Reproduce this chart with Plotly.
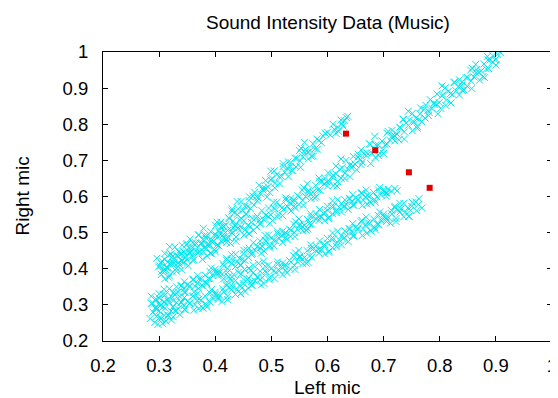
import plotly.graph_objects as go

# ---- data ----
# upper-left steep band
band_a = [
    (0.296,0.429),(0.303,0.416),(0.299,0.405),(0.305,0.393),
    (0.317,0.438),(0.310,0.426),(0.319,0.414),(0.313,0.404),
    (0.328,0.460),(0.335,0.447),(0.331,0.436),(0.326,0.425),
    (0.349,0.466),(0.344,0.447),(0.340,0.442),(0.347,0.431),
    (0.360,0.472),(0.364,0.466),(0.357,0.448),(0.355,0.482),
    (0.371,0.494),(0.378,0.481),(0.374,0.470),(0.380,0.458),
    (0.392,0.503),(0.385,0.491),(0.394,0.479),(0.388,0.469),
    (0.403,0.529),(0.410,0.516),(0.406,0.505),(0.401,0.494),
    (0.424,0.541),(0.419,0.522),(0.415,0.517),(0.422,0.506),
    (0.435,0.556),(0.439,0.550),(0.432,0.532),(0.430,0.566),
    (0.446,0.586),(0.453,0.573),(0.449,0.562),(0.455,0.550),
    (0.467,0.601),(0.460,0.589),(0.469,0.577),(0.463,0.567),
    (0.478,0.631),(0.485,0.618),(0.481,0.607),(0.476,0.596),
    (0.499,0.646),(0.494,0.627),(0.490,0.622),(0.497,0.611),
    (0.510,0.661),(0.514,0.655),(0.507,0.637),(0.505,0.671),
    (0.521,0.691),(0.528,0.678),(0.524,0.667),(0.530,0.655),
    (0.542,0.706),(0.535,0.694),(0.544,0.682),(0.538,0.672),
    (0.553,0.734),(0.560,0.721),(0.556,0.710),(0.551,0.699),
    (0.574,0.746),(0.569,0.727),(0.565,0.722),(0.572,0.711),
    (0.585,0.755),(0.589,0.749),(0.582,0.731),
    (0.592,0.768),(0.600,0.778),(0.605,0.770),(0.612,0.786),(0.618,0.792),
    (0.620,0.780),(0.626,0.800),(0.630,0.810),(0.634,0.818),(0.624,0.812),
    (0.610,0.800),(0.615,0.775),(0.628,0.795),(0.596,0.775),(0.636,0.822),
    (0.310,0.442),(0.305,0.421),(0.312,0.396),
    (0.321,0.441),(0.326,0.415),(0.319,0.461),
    (0.341,0.465),(0.338,0.438),(0.335,0.418),
    (0.350,0.469),(0.355,0.445),(0.354,0.457),
    (0.370,0.493),(0.365,0.472),(0.372,0.447),
    (0.381,0.492),(0.386,0.466),(0.379,0.512),
    (0.401,0.520),(0.398,0.493),(0.395,0.473),
    (0.410,0.529),(0.415,0.505),(0.414,0.517),
    (0.430,0.560),(0.425,0.539),(0.432,0.514),
    (0.441,0.566),(0.446,0.540),(0.439,0.586),
    (0.461,0.599),(0.458,0.572),(0.455,0.552),
    (0.470,0.612),(0.475,0.588),(0.474,0.600),
    (0.490,0.644),(0.485,0.623),(0.492,0.598),
    (0.501,0.650),(0.506,0.624),(0.499,0.670),
    (0.521,0.683),(0.518,0.656),(0.515,0.636),
    (0.530,0.696),(0.535,0.672),(0.534,0.684),
    (0.550,0.727),(0.545,0.706),(0.552,0.681),
    (0.561,0.730),(0.566,0.704),(0.559,0.750),
    (0.581,0.759),(0.578,0.732),(0.575,0.712),
]

# main diagonal band
band_b = [
    (0.301,0.408),(0.308,0.395),(0.304,0.384),(0.310,0.372),
    (0.322,0.415),(0.315,0.403),(0.324,0.391),(0.318,0.381),
    (0.333,0.436),(0.340,0.423),(0.336,0.412),(0.331,0.401),
    (0.354,0.443),(0.349,0.424),(0.345,0.419),(0.352,0.408),
    (0.365,0.449),(0.369,0.443),(0.362,0.425),(0.360,0.459),
    (0.376,0.471),(0.383,0.458),(0.379,0.447),(0.385,0.435),
    (0.397,0.477),(0.390,0.465),(0.399,0.453),(0.393,0.443),
    (0.408,0.499),(0.415,0.486),(0.411,0.475),(0.406,0.464),
    (0.429,0.505),(0.424,0.486),(0.420,0.481),(0.427,0.470),
    (0.440,0.512),(0.444,0.506),(0.437,0.488),(0.435,0.522),
    (0.451,0.533),(0.458,0.520),(0.454,0.509),(0.460,0.497),
    (0.472,0.540),(0.465,0.528),(0.474,0.516),(0.468,0.506),
    (0.483,0.561),(0.490,0.548),(0.486,0.537),(0.481,0.526),
    (0.504,0.568),(0.499,0.549),(0.495,0.544),(0.502,0.533),
    (0.515,0.574),(0.519,0.568),(0.512,0.550),(0.510,0.584),
    (0.526,0.596),(0.533,0.583),(0.529,0.572),(0.535,0.560),
    (0.547,0.602),(0.540,0.590),(0.549,0.578),(0.543,0.568),
    (0.558,0.624),(0.565,0.611),(0.561,0.600),(0.556,0.589),
    (0.579,0.631),(0.574,0.612),(0.570,0.607),(0.577,0.596),
    (0.590,0.641),(0.594,0.635),(0.587,0.617),(0.585,0.651),
    (0.601,0.666),(0.608,0.653),(0.604,0.642),(0.610,0.630),
    (0.622,0.675),(0.615,0.663),(0.624,0.651),(0.618,0.641),
    (0.633,0.700),(0.640,0.687),(0.636,0.676),(0.631,0.665),
    (0.654,0.709),(0.649,0.690),(0.645,0.685),(0.652,0.674),
    (0.665,0.719),(0.669,0.713),(0.662,0.695),(0.660,0.729),
    (0.676,0.744),(0.683,0.731),(0.679,0.720),(0.685,0.708),
    (0.697,0.754),(0.690,0.742),(0.699,0.730),(0.693,0.720),
    (0.708,0.780),(0.715,0.767),(0.711,0.756),(0.706,0.745),
    (0.729,0.792),(0.724,0.773),(0.720,0.768),(0.727,0.757),
    (0.740,0.803),(0.744,0.797),(0.737,0.779),(0.735,0.813),
    (0.751,0.830),(0.758,0.817),(0.754,0.806),(0.760,0.794),
    (0.772,0.841),(0.765,0.829),(0.774,0.817),(0.768,0.807),
    (0.783,0.868),(0.790,0.855),(0.786,0.844),(0.781,0.833),
    (0.804,0.879),(0.799,0.860),(0.795,0.855),(0.802,0.844),
    (0.815,0.891),(0.819,0.885),(0.812,0.867),(0.810,0.901),
    (0.826,0.917),(0.833,0.904),(0.829,0.893),(0.835,0.881),
    (0.847,0.929),(0.840,0.917),(0.849,0.905),(0.843,0.895),
    (0.858,0.955),(0.865,0.942),(0.861,0.931),(0.856,0.920),
    (0.879,0.967),(0.874,0.948),(0.870,0.943),(0.877,0.932),
    (0.890,0.978),(0.894,0.972),(0.887,0.954),(0.885,0.988),
    (0.903,0.994),(0.909,0.998),(0.900,0.980),
    (0.315,0.418),(0.310,0.399),(0.317,0.376),
    (0.326,0.416),(0.331,0.393),(0.324,0.434),
    (0.346,0.440),(0.343,0.416),(0.340,0.397),
    (0.355,0.445),(0.360,0.423),(0.359,0.434),
    (0.375,0.468),(0.370,0.449),(0.377,0.426),
    (0.386,0.466),(0.391,0.443),(0.384,0.484),
    (0.406,0.490),(0.403,0.466),(0.400,0.447),
    (0.415,0.495),(0.420,0.473),(0.419,0.484),
    (0.435,0.518),(0.430,0.499),(0.437,0.476),
    (0.446,0.516),(0.451,0.493),(0.444,0.534),
    (0.466,0.540),(0.463,0.516),(0.460,0.497),
    (0.475,0.545),(0.480,0.523),(0.479,0.534),
    (0.495,0.568),(0.490,0.549),(0.497,0.526),
    (0.506,0.566),(0.511,0.543),(0.504,0.584),
    (0.526,0.590),(0.523,0.566),(0.520,0.547),
    (0.535,0.595),(0.540,0.573),(0.539,0.584),
    (0.555,0.618),(0.550,0.599),(0.557,0.576),
    (0.566,0.617),(0.571,0.594),(0.564,0.635),
    (0.586,0.642),(0.583,0.618),(0.580,0.599),
    (0.595,0.651),(0.600,0.629),(0.599,0.640),
    (0.615,0.684),(0.610,0.659),(0.617,0.629),
    (0.626,0.680),(0.631,0.650),(0.624,0.704),
    (0.646,0.711),(0.643,0.679),(0.640,0.655),
    (0.655,0.717),(0.660,0.688),(0.659,0.702),
    (0.675,0.746),(0.670,0.721),(0.677,0.691),
    (0.686,0.743),(0.691,0.713),(0.684,0.767),
    (0.706,0.775),(0.703,0.743),(0.700,0.719),
    (0.715,0.783),(0.720,0.754),(0.719,0.768),
    (0.735,0.814),(0.730,0.789),(0.737,0.759),
    (0.746,0.812),(0.751,0.782),(0.744,0.836),
    (0.766,0.845),(0.763,0.813),(0.760,0.789),
    (0.775,0.853),(0.780,0.824),(0.779,0.838),
    (0.795,0.884),(0.790,0.859),(0.797,0.829),
    (0.806,0.882),(0.811,0.852),(0.804,0.906),
    (0.826,0.915),(0.823,0.883),(0.820,0.859),
    (0.835,0.923),(0.840,0.894),(0.839,0.908),
    (0.855,0.950),(0.850,0.929),(0.857,0.899),
    (0.866,0.952),(0.871,0.922),(0.864,0.966),
    (0.886,0.978),(0.883,0.953),(0.880,0.929),
    (0.895,0.990),(0.900,0.964),(0.899,0.978),
]

# upper band of the lower group
band_c = [
    (0.286,0.324),(0.293,0.313),(0.289,0.304),(0.295,0.293),
    (0.307,0.329),(0.300,0.319),(0.309,0.309),(0.303,0.300),
    (0.318,0.345),(0.325,0.334),(0.321,0.324),(0.316,0.315),
    (0.339,0.353),(0.334,0.336),(0.330,0.332),(0.337,0.323),
    (0.350,0.356),(0.354,0.350),(0.347,0.335),(0.345,0.364),
    (0.361,0.371),(0.368,0.360),(0.364,0.351),(0.370,0.346),
    (0.382,0.382),(0.375,0.372),(0.384,0.362),(0.378,0.353),
    (0.393,0.402),(0.400,0.391),(0.396,0.381),(0.391,0.372),
    (0.414,0.414),(0.409,0.391),(0.405,0.387),(0.412,0.384),
    (0.425,0.421),(0.429,0.415),(0.422,0.400),(0.420,0.429),
    (0.436,0.440),(0.443,0.429),(0.439,0.420),(0.445,0.409),
    (0.457,0.452),(0.450,0.442),(0.459,0.432),(0.453,0.423),
    (0.468,0.472),(0.475,0.461),(0.471,0.451),(0.466,0.442),
    (0.489,0.479),(0.484,0.462),(0.480,0.458),(0.487,0.449),
    (0.500,0.485),(0.504,0.479),(0.497,0.464),(0.495,0.493),
    (0.511,0.504),(0.518,0.493),(0.514,0.484),(0.520,0.473),
    (0.532,0.510),(0.525,0.500),(0.534,0.490),(0.528,0.481),
    (0.543,0.530),(0.550,0.519),(0.546,0.509),(0.541,0.500),
    (0.564,0.537),(0.559,0.520),(0.555,0.516),(0.562,0.507),
    (0.575,0.544),(0.579,0.538),(0.572,0.523),(0.570,0.552),
    (0.586,0.564),(0.593,0.553),(0.589,0.544),(0.595,0.533),
    (0.607,0.572),(0.600,0.562),(0.609,0.552),(0.603,0.543),
    (0.618,0.591),(0.625,0.580),(0.621,0.570),(0.616,0.561),
    (0.639,0.594),(0.634,0.577),(0.630,0.573),(0.637,0.564),
    (0.650,0.597),(0.654,0.591),(0.647,0.576),(0.645,0.605),
    (0.661,0.610),(0.668,0.599),(0.664,0.590),(0.670,0.579),
    (0.682,0.611),(0.675,0.601),(0.684,0.591),(0.678,0.582),
    (0.693,0.625),(0.700,0.614),(0.696,0.604),
    (0.708,0.620),(0.714,0.615),(0.706,0.610),
    (0.720,0.622),(0.724,0.616),
    (0.300,0.331),(0.295,0.315),(0.302,0.297),
    (0.311,0.328),(0.316,0.310),(0.309,0.343),
    (0.331,0.350),(0.328,0.327),(0.325,0.312),
    (0.340,0.353),(0.345,0.335),(0.344,0.344),
    (0.360,0.369),(0.355,0.353),(0.362,0.335),
    (0.371,0.372),(0.376,0.354),(0.369,0.381),
    (0.391,0.392),(0.388,0.373),(0.385,0.358),
    (0.400,0.399),(0.405,0.381),(0.404,0.390),
    (0.420,0.424),(0.415,0.408),(0.422,0.390),
    (0.431,0.424),(0.436,0.406),(0.429,0.439),
    (0.451,0.451),(0.448,0.426),(0.445,0.411),
    (0.460,0.457),(0.465,0.439),(0.464,0.448),
    (0.480,0.477),(0.475,0.461),(0.482,0.443),
    (0.491,0.477),(0.496,0.459),(0.489,0.492),
    (0.511,0.497),(0.508,0.478),(0.505,0.463),
    (0.520,0.504),(0.525,0.486),(0.524,0.495),
    (0.540,0.523),(0.535,0.507),(0.542,0.489),
    (0.551,0.523),(0.556,0.505),(0.549,0.538),
    (0.571,0.544),(0.568,0.525),(0.565,0.510),
    (0.580,0.552),(0.585,0.534),(0.584,0.543),
    (0.600,0.573),(0.595,0.557),(0.602,0.539),
    (0.611,0.573),(0.616,0.555),(0.609,0.588),
    (0.631,0.591),(0.628,0.572),(0.625,0.557),
    (0.640,0.594),(0.645,0.576),(0.644,0.585),
    (0.660,0.609),(0.655,0.593),(0.662,0.575),
    (0.671,0.603),(0.676,0.585),(0.669,0.618),
    (0.691,0.618),(0.688,0.599),(0.685,0.584),
    (0.700,0.619),(0.705,0.601),(0.704,0.610),
    (0.415,0.372),(0.424,0.378),(0.433,0.384),(0.441,0.390),
    (0.452,0.398),(0.460,0.402),(0.468,0.410),(0.477,0.415),
    (0.486,0.421),(0.427,0.372),(0.446,0.386),(0.463,0.395),
]

# lowest band
band_d = [
    (0.286,0.304),(0.293,0.291),(0.289,0.280),(0.295,0.268),
    (0.292,0.252),(0.298,0.246),(0.284,0.262),
    (0.307,0.295),(0.300,0.283),(0.309,0.271),(0.303,0.261),
    (0.306,0.249),(0.312,0.255),
    (0.318,0.307),(0.325,0.294),(0.321,0.283),(0.316,0.272),(0.322,0.258),
    (0.339,0.308),(0.334,0.289),(0.330,0.284),(0.337,0.273),
    (0.350,0.310),(0.354,0.304),(0.347,0.286),(0.345,0.320),
    (0.361,0.325),(0.368,0.312),(0.364,0.301),(0.370,0.289),
    (0.382,0.325),(0.375,0.313),(0.384,0.301),(0.378,0.291),
    (0.393,0.342),(0.400,0.329),(0.396,0.318),(0.391,0.307),
    (0.414,0.344),(0.409,0.325),(0.405,0.320),(0.412,0.309),
    (0.425,0.348),(0.429,0.342),(0.422,0.324),(0.420,0.358),
    (0.436,0.367),(0.443,0.354),(0.439,0.343),(0.445,0.331),
    (0.457,0.371),(0.450,0.359),(0.459,0.347),(0.453,0.337),
    (0.468,0.390),(0.475,0.377),(0.471,0.366),(0.466,0.355),
    (0.489,0.394),(0.484,0.375),(0.480,0.370),(0.487,0.359),
    (0.500,0.400),(0.504,0.394),(0.497,0.376),(0.495,0.410),
    (0.511,0.419),(0.518,0.406),(0.514,0.395),(0.520,0.383),
    (0.532,0.423),(0.525,0.411),(0.534,0.399),(0.528,0.389),
    (0.543,0.444),(0.550,0.431),(0.546,0.420),(0.541,0.409),
    (0.564,0.450),(0.559,0.431),(0.555,0.426),(0.562,0.415),
    (0.575,0.456),(0.579,0.450),(0.572,0.432),(0.570,0.466),
    (0.586,0.477),(0.593,0.464),(0.589,0.453),(0.595,0.441),
    (0.607,0.483),(0.600,0.471),(0.609,0.459),(0.603,0.449),
    (0.618,0.504),(0.625,0.491),(0.621,0.480),(0.616,0.469),
    (0.639,0.510),(0.634,0.491),(0.630,0.486),(0.637,0.475),
    (0.650,0.515),(0.654,0.509),(0.647,0.491),(0.645,0.525),
    (0.661,0.534),(0.668,0.521),(0.664,0.510),(0.670,0.498),
    (0.682,0.538),(0.675,0.526),(0.684,0.514),(0.678,0.504),
    (0.693,0.557),(0.700,0.544),(0.696,0.533),(0.691,0.522),
    (0.714,0.561),(0.709,0.542),(0.705,0.537),(0.712,0.526),
    (0.725,0.563),(0.729,0.557),(0.722,0.539),(0.720,0.573),
    (0.736,0.581),(0.743,0.568),(0.739,0.557),(0.745,0.545),
    (0.757,0.585),(0.750,0.573),(0.759,0.561),
    (0.763,0.594),(0.768,0.568),(0.762,0.578),
    (0.300,0.304),(0.295,0.287),(0.302,0.266),
    (0.311,0.291),(0.316,0.270),(0.309,0.307),
    (0.331,0.306),(0.328,0.284),(0.325,0.267),
    (0.340,0.307),(0.345,0.287),(0.344,0.297),
    (0.360,0.323),(0.355,0.306),(0.362,0.285),
    (0.371,0.316),(0.376,0.295),(0.369,0.332),
    (0.391,0.333),(0.388,0.311),(0.385,0.294),
    (0.400,0.335),(0.405,0.315),(0.404,0.325),
    (0.420,0.353),(0.415,0.336),(0.422,0.315),
    (0.431,0.350),(0.436,0.329),(0.429,0.366),
    (0.451,0.370),(0.448,0.348),(0.445,0.331),
    (0.460,0.374),(0.465,0.354),(0.464,0.364),
    (0.480,0.393),(0.475,0.376),(0.482,0.355),
    (0.491,0.391),(0.496,0.370),(0.489,0.407),
    (0.511,0.412),(0.508,0.390),(0.505,0.373),
    (0.520,0.416),(0.525,0.396),(0.524,0.406),
    (0.540,0.436),(0.535,0.419),(0.542,0.398),
    (0.551,0.435),(0.556,0.414),(0.549,0.451),
    (0.571,0.457),(0.568,0.435),(0.565,0.418),
    (0.580,0.463),(0.585,0.443),(0.584,0.453),
    (0.600,0.484),(0.595,0.467),(0.602,0.446),
    (0.611,0.483),(0.616,0.462),(0.609,0.499),
    (0.631,0.505),(0.628,0.483),(0.625,0.466),
    (0.640,0.511),(0.645,0.491),(0.644,0.501),
    (0.660,0.530),(0.655,0.513),(0.662,0.492),
    (0.671,0.527),(0.676,0.506),(0.669,0.543),
    (0.691,0.547),(0.688,0.525),(0.685,0.508),
    (0.700,0.551),(0.705,0.531),(0.704,0.541),
    (0.720,0.569),(0.715,0.552),(0.722,0.531),
    (0.731,0.565),(0.736,0.544),(0.729,0.581),
    (0.751,0.584),(0.748,0.562),(0.745,0.545),
]

red_x = [0.633, 0.685, 0.745, 0.782]
red_y = [0.774, 0.728, 0.667, 0.624]

x_ticks = [0.2, 0.3, 0.4, 0.5, 0.6, 0.7, 0.8, 0.9, 1]
y_ticks = [0.2, 0.3, 0.4, 0.5, 0.6, 0.7, 0.8, 0.9, 1]

pts = band_a + band_b + band_c + band_d
cx = [p[0] for p in pts]
cy = [p[1] for p in pts]

CYAN = "#00e5ee"
fig = go.Figure()
fig.add_trace(go.Scatter(
    x=cx, y=cy, mode="markers",
    marker=dict(symbol="x-thin", size=7, line=dict(width=1, color=CYAN), color=CYAN),
    showlegend=False, hoverinfo="skip"))
fig.add_trace(go.Scatter(
    x=red_x, y=red_y, mode="markers",
    marker=dict(symbol="square", size=6, color="#e00000"),
    showlegend=False))

font = "Liberation Sans, Arial, sans-serif"
axis_common = dict(
    showgrid=False, zeroline=False, showline=True, linecolor="black", linewidth=1,
    mirror="ticks", ticks="inside", ticklen=5, tickcolor="black", automargin=False,
    tickfont=dict(family=font, size=18.5, color="black"),
)
fig.update_xaxes(range=[0.2, 1.0], tickvals=x_ticks, ticktext=[f"{v:g}" for v in x_ticks],
                 ticklabelstandoff=8, **axis_common)
fig.update_yaxes(range=[0.2, 1.0], tickvals=y_ticks, ticktext=[f"{v:g}" for v in y_ticks],
                 ticklabelstandoff=10, **axis_common)

# page body has an 8px margin, so the figure is sized to fit inside the window
fig.update_layout(
    width=550, height=390,
    margin=dict(l=95, r=6, t=44, b=57),
    plot_bgcolor="white", paper_bgcolor="white",
    font=dict(family=font, color="black"),
    annotations=[
        dict(text="Sound Intensity Data (Music)", xref="paper", yref="paper",
             x=0.5, y=1, yanchor="middle", yshift=30, showarrow=False,
             font=dict(size=19, family=font)),
        dict(text="Left mic", xref="paper", yref="paper", x=0.5, y=0,
             yanchor="middle", yshift=-46, showarrow=False, font=dict(size=19, family=font)),
        dict(text="Right mic", xref="paper", yref="paper", x=0, y=0.5,
             xanchor="center", xshift=-81, textangle=-90, showarrow=False,
             font=dict(size=19, family=font)),
    ],
)

fig.write_html("out.html")
